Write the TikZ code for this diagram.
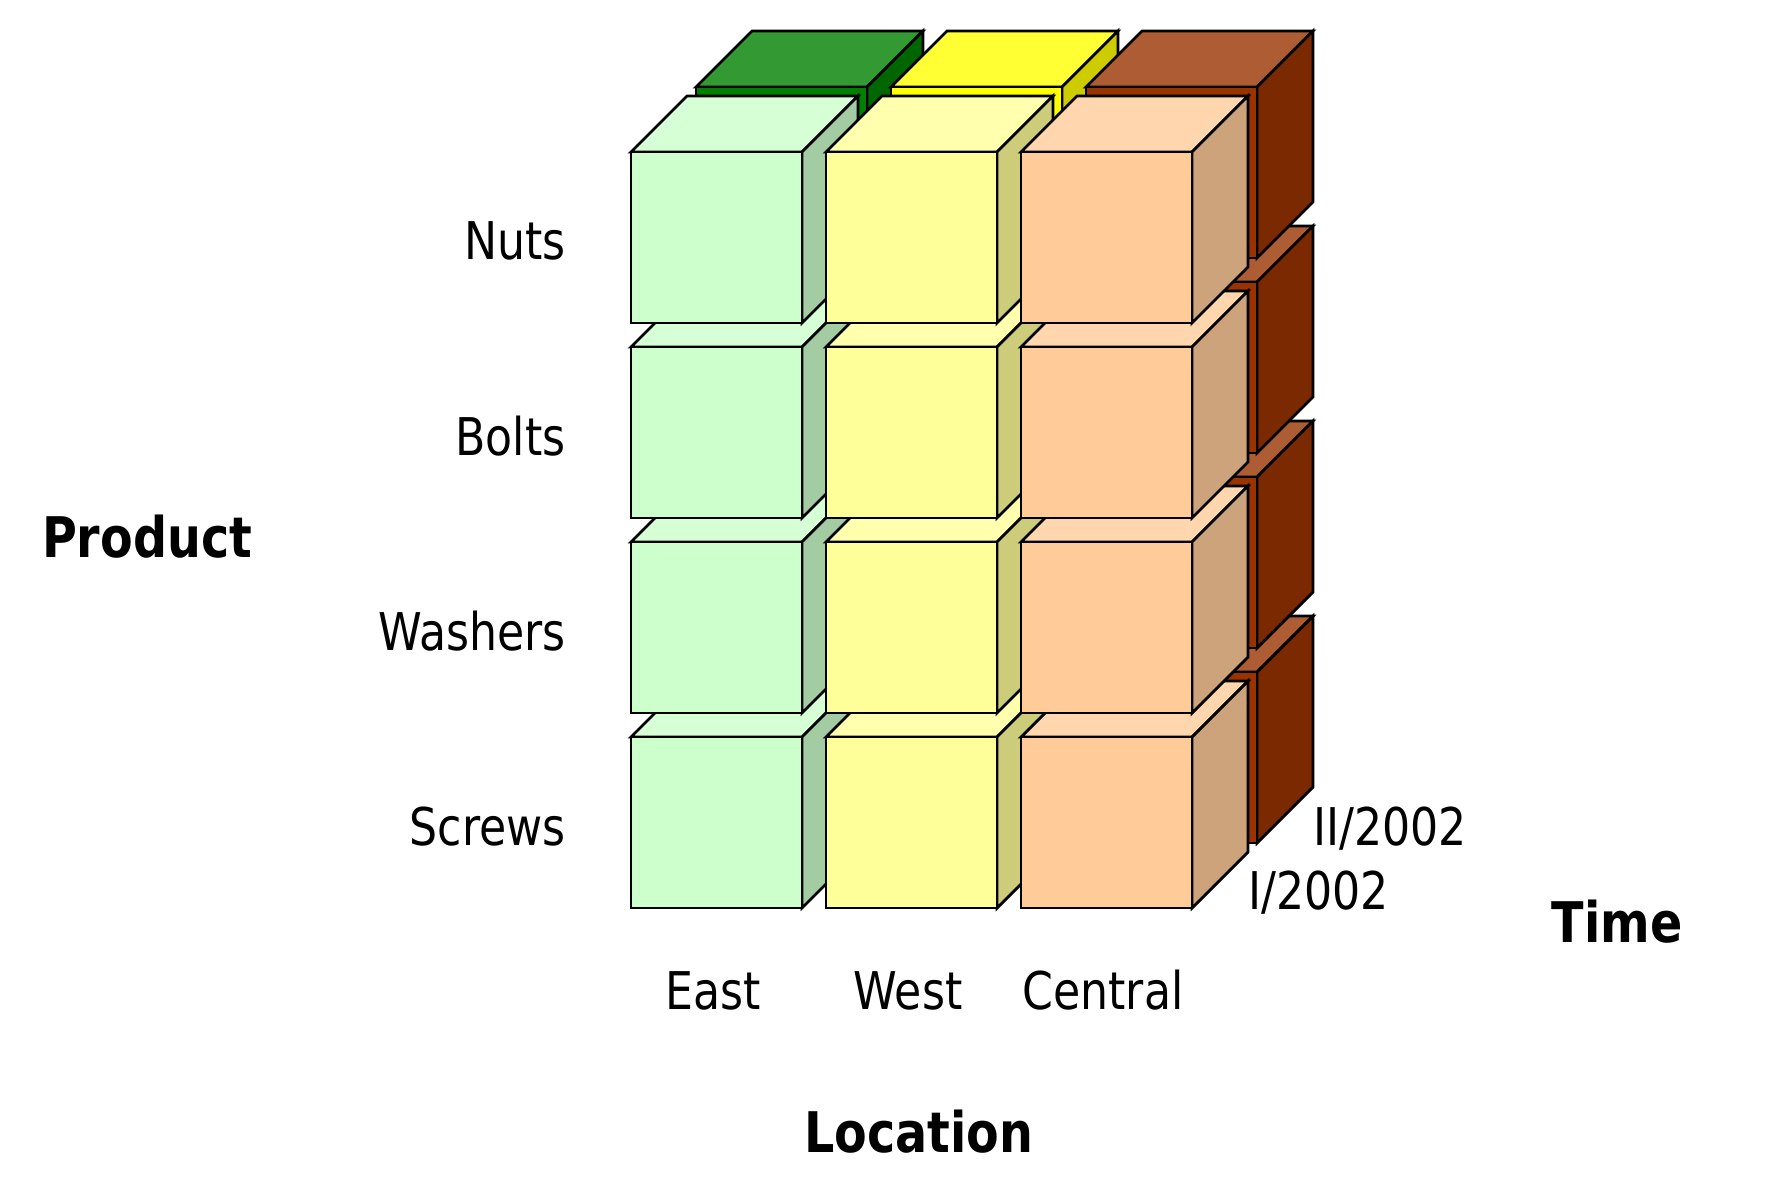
\documentclass[tikz,border=0pt]{standalone}
\usepackage{fontspec}
\setmainfont{DejaVu Sans}[FakeStretch=0.85]

\definecolor{eastfront}{HTML}{CCFFCC}
\definecolor{westfront}{HTML}{FFFF99}
\definecolor{centralfront}{HTML}{FFCC99}
\definecolor{eastback}{HTML}{008000}
\definecolor{westback}{HTML}{FFFF00}
\definecolor{centralback}{HTML}{993300}

% one cube: x, y of the front face's top left corner, colour
\newcommand{\datacube}[3]{%
  \filldraw[fill=#3!80!white] (#1,#2) -- ++(56,-56) -- ++(171,0) -- ++(-56,56) -- cycle;
  \filldraw[fill=#3!80!black] (#1+171,#2) -- ++(56,-56) -- ++(0,171) -- ++(-56,56) -- cycle;
  \filldraw[fill=#3] (#1,#2) rectangle ++(171,171);}

\tikzset{
  lbl/.style={inner sep=0pt, font=\fontsize{26}{30}\selectfont},
  axis/.style={inner sep=0pt, font=\fontsize{28}{32}\selectfont\bfseries}}

\begin{document}
\begin{tikzpicture}[x=0.5pt,y=-0.5pt,line width=1.4pt]
    \useasboundingbox (0,0) rectangle (1771,1192);

    % back layer first, lower rows before upper ones
    \foreach \lay/\off in {back/65,front/0}
        \foreach \r in {3,2,1,0}
            \foreach \c/\reg in {0/east,1/west,2/central}
                {\datacube{631+195*\c+\off}{152+195*\r-\off}{\reg\lay}}

    \foreach \r/\p in {0/Nuts,1/Bolts,2/Washers,3/Screws}
        \node[lbl,anchor=base east] (\p) at (567,260+195*\r) {\p};
    \foreach \c/\p in {0/East,1/West,2/Central}
        \node[lbl,anchor=base] (\p) at (713+195*\c,1009) {\p};

    \node[lbl,anchor=base west] (half2) at (1312,845) {II/2002};
    \node[lbl,anchor=base west] (half1) at (1247,909) {I/2002};

    \node[axis,anchor=base] (product) at (147,557) {Product};
    \node[axis,anchor=base] (location) at (919,1152) {Location};
    \node[axis,anchor=base] (time) at (1617,942) {Time};
\end{tikzpicture}
\end{document}
